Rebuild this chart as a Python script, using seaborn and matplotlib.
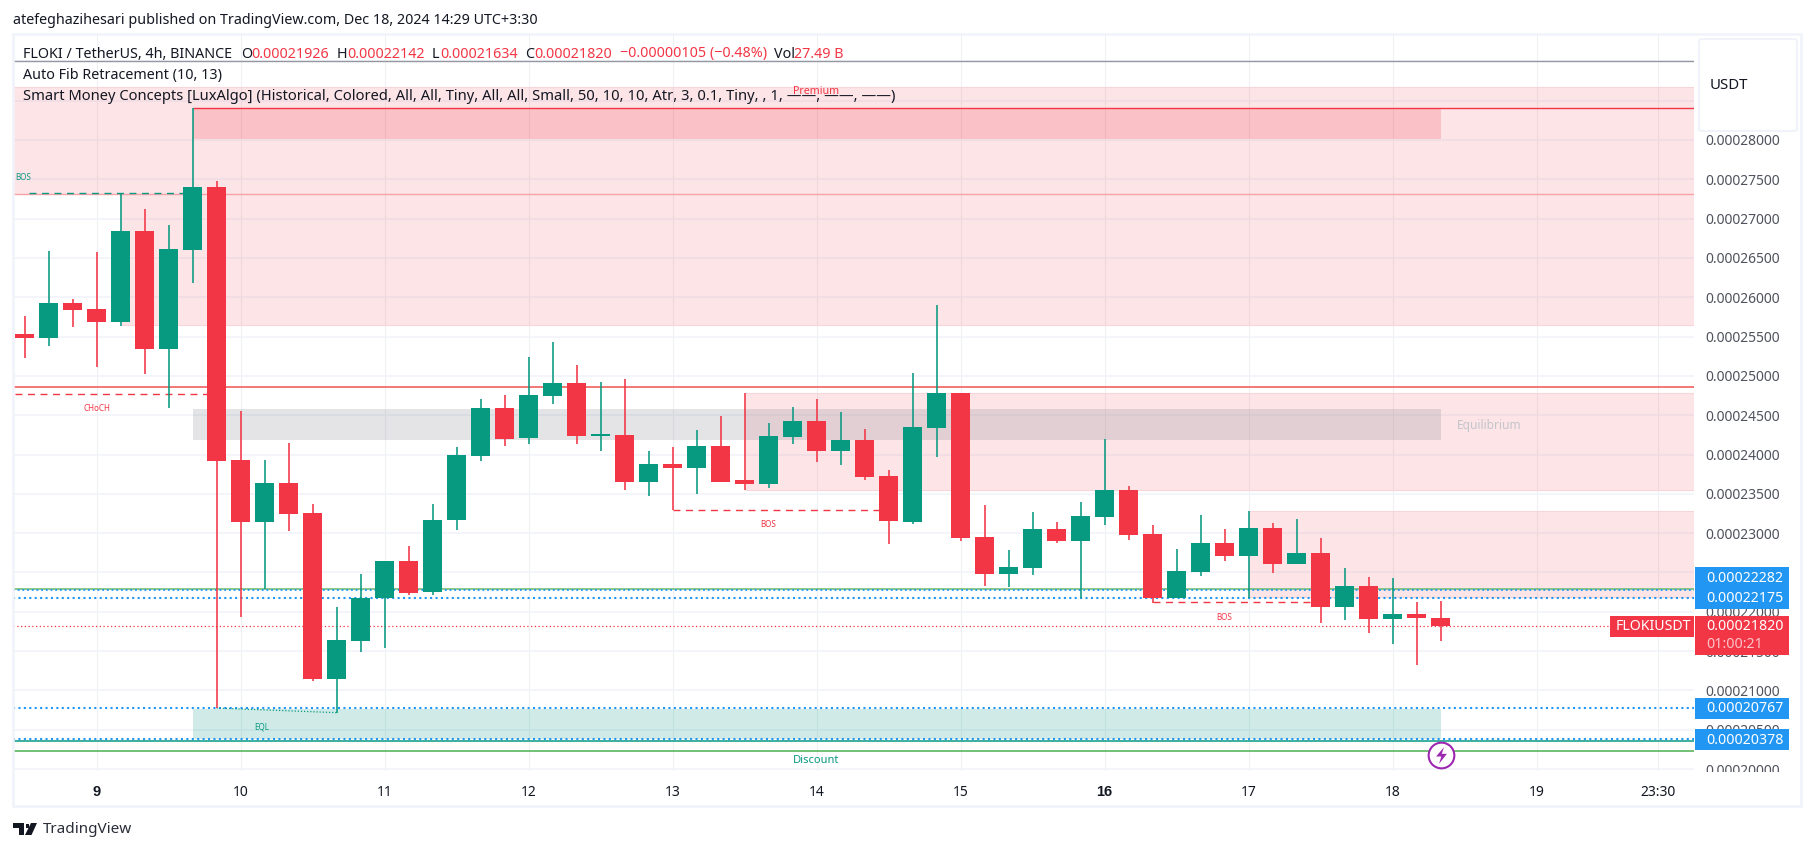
import numpy as np
import pandas as pd
import matplotlib
matplotlib.use('Agg')
import matplotlib.pyplot as plt
from matplotlib.patches import Rectangle, FancyBboxPatch, Polygon
from matplotlib.path import Path
import seaborn as sns

opens = [255.32, 254.81, 259.26, 258.50, 256.85, 268.42, 253.41, 266.00, 274.02, 239.30,
         231.42, 236.38, 232.56, 211.45, 216.28, 221.75, 226.46, 222.51, 231.67, 239.81,
         245.91, 242.10, 247.43, 249.09, 242.40, 242.48, 236.50, 238.79, 238.28, 241.08,
         236.76, 236.25, 242.23, 244.26, 240.45, 241.84, 237.27, 231.41, 243.37, 247.82,
         229.51, 224.80, 225.56, 230.52, 229.00, 232.05, 235.48, 229.89, 221.75, 225.06,
         228.75, 227.09, 230.65, 226.08, 227.47, 220.61, 223.28, 219.08, 219.72, 219.26]
highs = [257.61, 265.88, 259.77, 265.75, 273.17, 271.22, 269.18, 284.02, 274.78, 245.50,
         239.30, 241.46, 233.71, 220.61, 224.80, 226.46, 228.36, 233.71, 240.96, 247.05,
         247.56, 252.39, 254.30, 251.38, 249.22, 249.60, 240.45, 240.95, 243.12, 244.90,
         247.82, 244.01, 246.04, 247.06, 245.41, 243.24, 238.03, 250.37, 259.01, 247.82,
         233.58, 227.85, 232.69, 231.41, 233.96, 241.97, 235.99, 231.03, 227.98, 232.30,
         230.53, 232.82, 231.29, 231.80, 229.38, 225.57, 224.42, 224.29, 221.24, 221.42]
lows = [252.27, 253.80, 256.21, 251.12, 256.34, 250.23, 245.91, 261.81, 207.76, 219.34,
        222.94, 230.27, 211.19, 207.17, 214.88, 215.39, 222.13, 222.13, 230.40, 239.18,
        241.08, 241.34, 246.42, 241.34, 240.45, 235.48, 234.72, 232.90, 234.98, 236.50,
        235.48, 235.74, 241.34, 239.05, 238.66, 236.76, 228.62, 231.16, 239.68, 229.00,
        223.28, 223.15, 224.67, 228.75, 221.75, 231.03, 229.13, 221.11, 221.70, 224.55,
        226.46, 221.75, 224.93, 226.08, 218.57, 218.95, 217.30, 215.90, 213.23, 216.34]
closes = [254.81, 259.26, 258.37, 256.85, 268.42, 253.41, 266.13, 274.02, 239.18, 231.42,
          236.38, 232.43, 211.45, 216.41, 221.75, 226.46, 222.39, 231.67, 239.94, 245.91,
          241.97, 247.56, 249.09, 242.36, 242.50, 236.50, 238.79, 238.28, 241.08, 236.50,
          236.25, 242.35, 244.26, 240.45, 241.84, 237.14, 231.54, 243.50, 247.82, 229.38,
          224.80, 225.69, 230.52, 229.00, 232.18, 235.48, 229.76, 221.75, 225.18, 228.75,
          227.09, 230.65, 226.08, 227.47, 220.61, 223.28, 219.08, 219.72, 219.21, 218.20]

# bar numbers count 4h candles from the start of the 9th
day_ticks = [0, 6, 12, 18, 24, 30, 36, 42, 48, 54, 60, 65.07]
day_labels = ['9', '10', '11', '12', '13', '14', '15', '16', '17', '18', '19', '23:30']
bold_days = ['9', '16']
price_ticks = [200, 205, 210, 215, 220, 225, 230, 235, 240, 245, 250, 255, 260, 265,
               270, 275, 280, 285, 290]

# price levels
level_last = 218.20
level_blue_a = 222.82
level_blue_b = 221.75
level_blue_c = 207.76
level_blue_d = 203.78
level_fib_top = 290.0
level_fib_high = 284.02
level_fib_green = 222.94
level_teal = 203.52
level_green = 202.33
level_bos_top = 273.08
level_red = 248.54

# Smart Money Concepts zones: (start bar, low, high)
zone_premium_top = (-3.46, 273.08, 286.78)
zone_premium_low = (1, 256.42, 273.08)
zone_mid = (27, 235.53, 247.82)
zone_low = (48, 221.92, 232.82)
zone_dark = (4, 56, 280.12, 284.02)
zone_equilibrium = (4, 56, 241.85, 245.78)
zone_discount = (4, 56, 203.78, 207.68)

# structure breaks: (start bar, end bar, price)
bos_green = (-2.8, 4, 273.2)
choch_red = (-3.4, 5, 247.65)
bos_red_a = (24, 33, 232.9)
bos_red_b = (44, 51, 221.2)
eql_x = [5, 10]
eql_y = [207.76, 207.17]

W, H = 1814, 851
UP = '#089981'
DOWN = '#f23645'
BLUE = '#2196f3'
DARK = '#131722'
GREY = '#50535e'
EDGE = '#f7d6d9'
RIGHT = 66.56

sns.set_theme(style='white')
plt.rcParams['font.family'] = ['Noto Sans', 'DejaVu Sans']
plt.rcParams['lines.solid_capstyle'] = 'butt'
plt.rcParams['lines.dash_capstyle'] = 'butt'

fig = plt.figure(figsize=(W / 100, H / 100), dpi=100, facecolor='white')
ax = fig.add_axes([13.5 / W, 1 - 771 / H, (1694 - 13.5) / W, (771 - 35) / H])


def fx(px):
    return px / W


def fy(py):
    return 1 - py / H


def label(px, py, s, **kw):
    kw.setdefault('va', 'center')
    kw.setdefault('color', DARK)
    kw.setdefault('fontsize', 10.3)
    return fig.text(fx(px), fy(py), s, **kw)


def box(x0, y0, x1, y1, color, zorder=6):
    # boxes on the price scale are placed in pixels, like the legend text
    ax.add_patch(Rectangle((fx(x0), fy(y1)), fx(x1 - x0), (y1 - y0) / H, transform=fig.transFigure,
                           facecolor=color, edgecolor='none', clip_on=False, zorder=zorder))


def hline(a, b, y, color, lw=1.0, ls='-', zorder=3):
    sns.lineplot(x=[a, b], y=[y, y], ax=ax, color=color, linewidth=lw, linestyle=ls,
                 estimator=None, sort=False, zorder=zorder, legend=False)


def zone(a, b, low, high, color, alpha):
    ax.fill_between([a, b], [low, low], [high, high], facecolor=color, edgecolor='none',
                    alpha=alpha, linewidth=0, zorder=1)


# grid
ax.set_axisbelow(True)
ax.grid(True, axis='y', color='#f0f3fa', linewidth=1.1)
ax.grid(True, axis='x', color='#eef0f3', linewidth=0.8)
for s in ax.spines.values():
    s.set_visible(False)

# zones
zone(zone_premium_top[0], RIGHT, zone_premium_top[1], zone_premium_top[2], DOWN, 0.125)
zone(zone_premium_low[0], RIGHT, zone_premium_low[1], zone_premium_low[2], DOWN, 0.125)
zone(zone_mid[0], RIGHT, zone_mid[1], zone_mid[2], DOWN, 0.125)
zone(zone_low[0], RIGHT, zone_low[1], zone_low[2], DOWN, 0.125)
zone(zone_dark[0], zone_dark[1], zone_dark[2], zone_dark[3], DOWN, 0.2)
zone(zone_equilibrium[0], zone_equilibrium[1], zone_equilibrium[2], zone_equilibrium[3], '#787b86', 0.2)
zone(zone_discount[0], zone_discount[1], zone_discount[2], zone_discount[3], UP, 0.19)

# zone edges
hline(zone_premium_top[0], RIGHT, zone_premium_top[2], EDGE, 0.8, zorder=1.5)
hline(zone_premium_low[0], RIGHT, zone_premium_low[1], EDGE, 0.8, zorder=1.5)
hline(zone_mid[0], RIGHT, zone_mid[1], EDGE, 0.8, zorder=1.5)
hline(zone_mid[0], RIGHT, zone_mid[2], EDGE, 0.8, zorder=1.5)
hline(zone_low[0], RIGHT, zone_low[1], EDGE, 0.8, zorder=1.5)
hline(zone_low[0], RIGHT, zone_low[2], EDGE, 0.8, zorder=1.5)

# levels
DOTS = (0, (1, 1.6))
hline(-3.46, RIGHT, level_fib_top, '#9598a1', 1.0)
hline(4, RIGHT, level_fib_high, DOWN, 1.0)
hline(-3.46, RIGHT, level_bos_top, '#f7a1a8', 1.0)
hline(-3.46, RIGHT, level_red, '#ef5350', 1.1)
hline(-3.46, RIGHT, level_fib_green, '#66bb6a', 1.1)
hline(-3.46, RIGHT, level_teal, UP, 1.1)
hline(-3.46, RIGHT, level_green, '#4caf50', 1.1)
hline(-3.46, RIGHT, level_blue_a, BLUE, 1.3, DOTS)
hline(-3.46, RIGHT, level_blue_b, BLUE, 1.5, DOTS)
hline(-3.46, RIGHT, level_blue_c, BLUE, 1.5, DOTS)
hline(-3.46, RIGHT, level_blue_d, BLUE, 1.5, DOTS)
hline(-3.46, RIGHT, level_last, DOWN, 0.9, (0, (1, 2)))

# structure breaks
DASH = (0, (5, 4))
hline(bos_green[0], bos_green[1], bos_green[2], UP, 1.0, DASH)
hline(choch_red[0], choch_red[1], choch_red[2], DOWN, 1.0, DASH)
hline(bos_red_a[0], bos_red_a[1], bos_red_a[2], DOWN, 1.0, DASH)
hline(bos_red_b[0], bos_red_b[1], bos_red_b[2], DOWN, 1.0, DASH)
sns.lineplot(x=eql_x, y=eql_y, ax=ax, color=UP, linewidth=0.9, linestyle=(0, (1, 1.5)),
             estimator=None, sort=False, zorder=3, legend=False)

# candles
bars = np.arange(len(opens)) - 3
df = pd.DataFrame({'bar': bars, 'open': opens, 'high': highs, 'low': lows, 'close': closes})
df['side'] = np.where(df['close'] >= df['open'], 'up', 'down')
palette = {'up': UP, 'down': DOWN}
wicks = df.melt(id_vars=['bar', 'side'], value_vars=['low', 'high'], value_name='price')
sns.lineplot(data=wicks, x='bar', y='price', hue='side', units='bar', estimator=None,
             palette=palette, linewidth=1.15, sort=False, legend=False, zorder=4, ax=ax)
body_low = df[['open', 'close']].min(axis=1)
body_size = (df['close'] - df['open']).abs().clip(lower=0.2)
ax.bar(df['bar'], body_size, bottom=body_low, width=0.79, linewidth=0,
       color=df['side'].map(palette), zorder=5)

# small labels of the indicator
ax.text(-3.05, 275.2, 'BOS', color=UP, fontsize=5.8, ha='center', va='center', zorder=5)
ax.text(0, 245.9, 'CHoCH', color=DOWN, fontsize=5.8, ha='center', va='center', zorder=5)
ax.text(28, 231.16, 'BOS', color=DOWN, fontsize=5.8, ha='center', va='center', zorder=5)
ax.text(47, 219.33, 'BOS', color=DOWN, fontsize=5.8, ha='center', va='center', zorder=5)
ax.text(6.9, 205.3, 'EQL', color=UP, fontsize=5.8, ha='center', va='center', zorder=5)
ax.text(30, 286.2, 'Premium', color=DOWN, fontsize=7.7, ha='center', va='center', zorder=5)
ax.text(30, 201.1, 'Discount', color=UP, fontsize=8, ha='center', va='center', zorder=5)
ax.text(56.7, 243.65, 'Equilibrium', color='#c3c5cc', fontsize=8.6, ha='left', va='center', zorder=5)

# lightning mark at the last bar
ax.plot([56], [201.8], marker='o', ms=18.5, mfc='white', mec='#9c27b0', mew=1.5, zorder=7, clip_on=False)
bolt = Path([(0.3, 1), (-0.65, -0.12), (-0.02, -0.12), (-0.3, -1), (0.65, 0.2), (0.03, 0.2), (0.3, 1)])
ax.plot([56], [201.8], marker=bolt, ms=12, mfc='#9c27b0', mec='none', zorder=8, clip_on=False)

# axes
ax.set_xlim(-3.46, RIGHT)
ax.set_ylim(199.75, 293.35)
ax.set_xlabel('')
ax.set_ylabel('')
ax.set_xticks(day_ticks)
ax.set_xticklabels(day_labels, fontsize=10, color=DARK)
for name, t in zip(day_labels, ax.get_xticklabels()):
    if name in bold_days:
        t.set_fontfamily('Liberation Sans')
        t.set_fontweight('bold')
        t.set_fontsize(10.5)
ax.set_yticks(price_ticks)
ax.set_yticklabels([f'{p * 1e-6:.8f}' for p in price_ticks], fontsize=10, color=GREY, ha='left')
ax.yaxis.tick_right()
ax.tick_params(axis='y', length=0, pad=8)
ax.tick_params(axis='x', length=0, pad=10)

# price scale labels
box(1695, 771.5, 1799, 805, 'white', 6)
for y0, txt in [(567, '0.00022282'), (588, '0.00022175'), (698, '0.00020767'), (729, '0.00020378')]:
    box(1695, y0, 1789, y0 + 21, BLUE, 7)
    ax.text(fx(1706), fy(y0 + 11), txt, transform=fig.transFigure, color='white', fontsize=10.2,
            va='center', zorder=9)
box(1695, 616, 1789, 655, DOWN, 7)
ax.text(fx(1706), fy(627), '0.00021820', transform=fig.transFigure, color='white', fontsize=10.2,
        va='center', zorder=9)
ax.text(fx(1706), fy(645), '01:00:21', transform=fig.transFigure, color='#fbc4c9', fontsize=10.2,
        va='center', zorder=9)
box(1610, 616, 1694, 637, DOWN, 7)
ax.text(fx(1616), fy(627), 'FLOKIUSDT', transform=fig.transFigure, color='white', fontsize=10.2,
        va='center', zorder=9)

# USDT box
ax.add_patch(FancyBboxPatch((fx(1699), fy(131)), fx(98), 92 / H, transform=fig.transFigure,
                            boxstyle='round,pad=0,rounding_size=0.003', facecolor='white',
                            edgecolor='#f0f3fa', linewidth=1.5, clip_on=False, zorder=8,
                            mutation_aspect=H / W))
ax.text(fx(1710), fy(85.5), 'USDT', transform=fig.transFigure, color=DARK, fontsize=10.8, va='center', zorder=9)

# chart frame
fig.add_artist(Rectangle((fx(12.5), fy(805.5)), fx(1788), 772 / H, transform=fig.transFigure,
                         facecolor='none', edgecolor='#f0f3fa', linewidth=1.8, zorder=10))

# text on top of the chart
label(13, 21, 'atefeghazihesari published on TradingView.com, Dec 18, 2024 14:29 UTC+3:30')
label(23, 54, 'FLOKI / TetherUS, 4h, BINANCE')
for px, s, col in [(241.6, 'O', DARK), (251.5, '0.00021926', DOWN), (337, 'H', DARK), (347, '0.00022142', DOWN),
                   (432, 'L', DARK), (440, '0.00021634', DOWN), (525, 'C', DARK), (534, '0.00021820', DOWN),
                   (620, '\u22120.00000105 (\u22120.48%)', DOWN), (774, 'Vol', DARK), (794, '27.49 B', DOWN)]:
    label(px, 54, s, color=col, zorder=11)
label(23, 75.5, 'Auto Fib Retracement (10, 13)', zorder=11)
label(23, 96.5, 'Smart Money Concepts [LuxAlgo] (Historical, Colored, All, All, Tiny, All, All, Small, '
      '50, 10, 10, Atr, 3, 0.1, Tiny, , 1, \u2014\u2014, \u2014\u2014, \u2014\u2014)', zorder=11, fontsize=10.6)

# TradingView logo
fig.add_artist(Polygon([(fx(13), fy(823)), (fx(24), fy(823)), (fx(24), fy(835)), (fx(18.5), fy(835)),
                        (fx(18.5), fy(827.5)), (fx(13), fy(827.5))], closed=True, transform=fig.transFigure,
                       facecolor=DARK, edgecolor='none'))
fig.add_artist(Polygon([(fx(31), fy(823)), (fx(37), fy(823)), (fx(31.5), fy(835)), (fx(25), fy(835))],
                       closed=True, transform=fig.transFigure, facecolor=DARK, edgecolor='none'))
fig.add_artist(Polygon([(fx(25.5), fy(823.5)), (fx(29), fy(823.5)), (fx(29), fy(827.5)), (fx(25.5), fy(827.5))],
                       closed=True, transform=fig.transFigure, facecolor=DARK, edgecolor='none'))
label(43, 829.5, 'TradingView', fontsize=11, color='#2a2e39')

plt.savefig('out.png', dpi=100)
plt.close()
